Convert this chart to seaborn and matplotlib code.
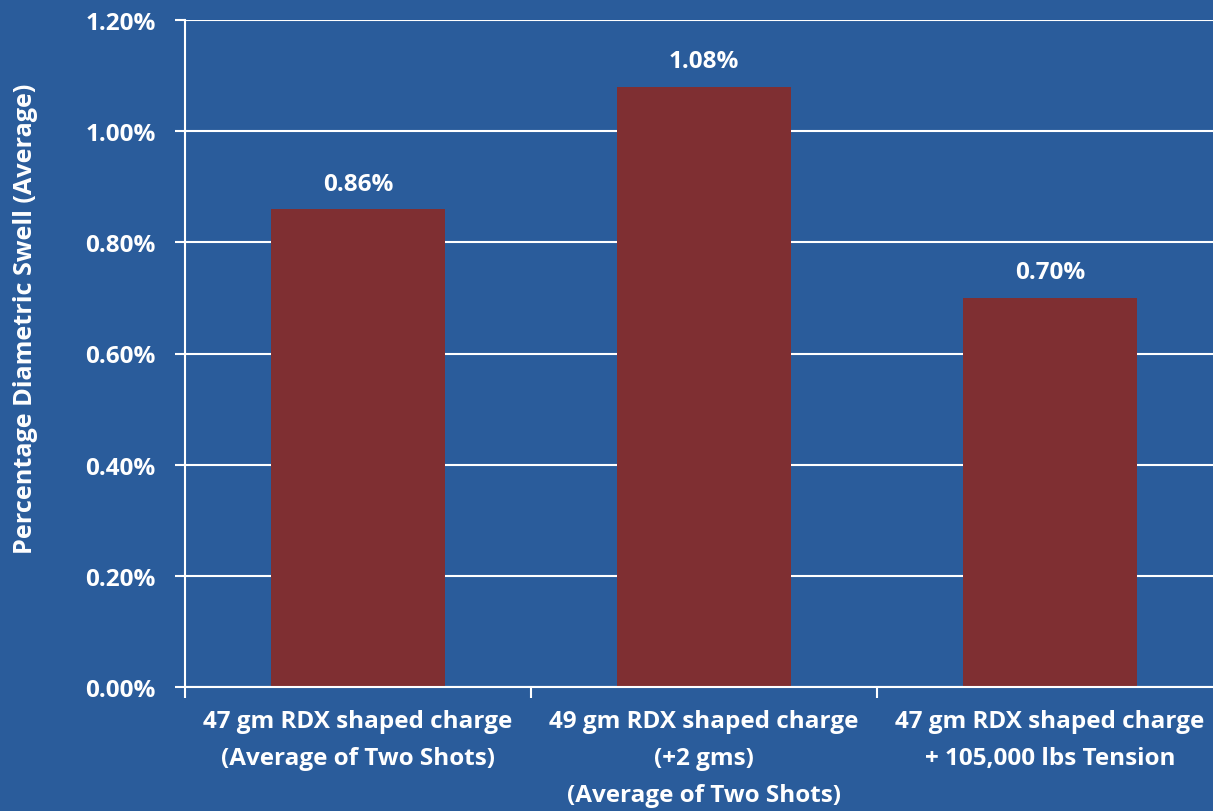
import matplotlib
matplotlib.use("Agg")
import matplotlib.pyplot as plt
import seaborn as sns
import pandas as pd
from matplotlib.ticker import FuncFormatter, MultipleLocator

categories = [
    "47 gm RDX shaped charge\n(Average of Two Shots)",
    "49 gm RDX shaped charge\n(+2 gms)\n(Average of Two Shots)",
    "47 gm RDX shaped charge\n+ 105,000 lbs Tension",
]
values = [0.0086, 0.0108, 0.0070]
value_labels = ["0.86%", "1.08%", "0.70%"]
y_label = "Percentage Diametric Swell (Average)"

BG = "#2A5C9B"
BAR = "#7F2F32"
FS = 17.5

sns.set_theme(style="white")
plt.rcParams["font.family"] = ["Open Sans", "DejaVu Sans"]
plt.rcParams["font.weight"] = "bold"

df = pd.DataFrame({"cat": categories, "val": values})

fig = plt.figure(figsize=(12.13, 8.12), dpi=100, facecolor=BG)
ax = fig.add_axes([185/1213, 1 - 688/812, 1038/1213, (688-21)/812])
ax.set_facecolor(BG)

sns.barplot(data=df, x="cat", y="val", color=BAR, width=0.503, saturation=1,
            edgecolor="none", linewidth=0, ax=ax)

ax.set_ylim(0, 0.012)
ax.set_xlim(-0.5, 2.5)
ax.yaxis.set_major_locator(MultipleLocator(0.002))
ax.yaxis.set_major_formatter(FuncFormatter(lambda v, p: f"{v*100:.2f}%"))
ax.grid(axis="y", color="white", linewidth=1.5)
ax.set_axisbelow(True)

for s in ["top", "right"]:
    ax.spines[s].set_visible(False)
for s in ["left", "bottom"]:
    ax.spines[s].set_color("white")
    ax.spines[s].set_linewidth(1.5)

ax.set_xticks([-0.5, 0.5, 1.5], minor=False)
ax.set_xticklabels([])
ax.set_xticks([0, 1, 2], minor=True)
ax.set_xticklabels(categories, minor=True, fontsize=FS, fontweight="bold",
                   color="white", linespacing=1.72, va="top")
ax.tick_params(axis="x", which="major", bottom=True, length=8, width=1.5,
               color="white", direction="out")
ax.tick_params(axis="x", which="minor", bottom=True, length=0, pad=16)
ax.tick_params(axis="y", left=True, length=7, width=1.5, color="white", direction="out",
               labelsize=FS, labelcolor="white", pad=14)
for t in ax.get_yticklabels():
    t.set_fontweight("bold")

ax.set_xlabel("")
ax.set_ylabel(y_label, fontsize=FS + 0.7, fontweight="bold", color="white")
ax.yaxis.set_label_coords(-0.142, 0.553)

for i, (v, lab) in enumerate(zip(values, value_labels)):
    ax.annotate(lab, (i, v), xytext=(0, 14), textcoords="offset points",
                ha="center", va="baseline", fontsize=FS, fontweight="bold", color="white")

fig.savefig("out.png", dpi=100, facecolor=BG)
